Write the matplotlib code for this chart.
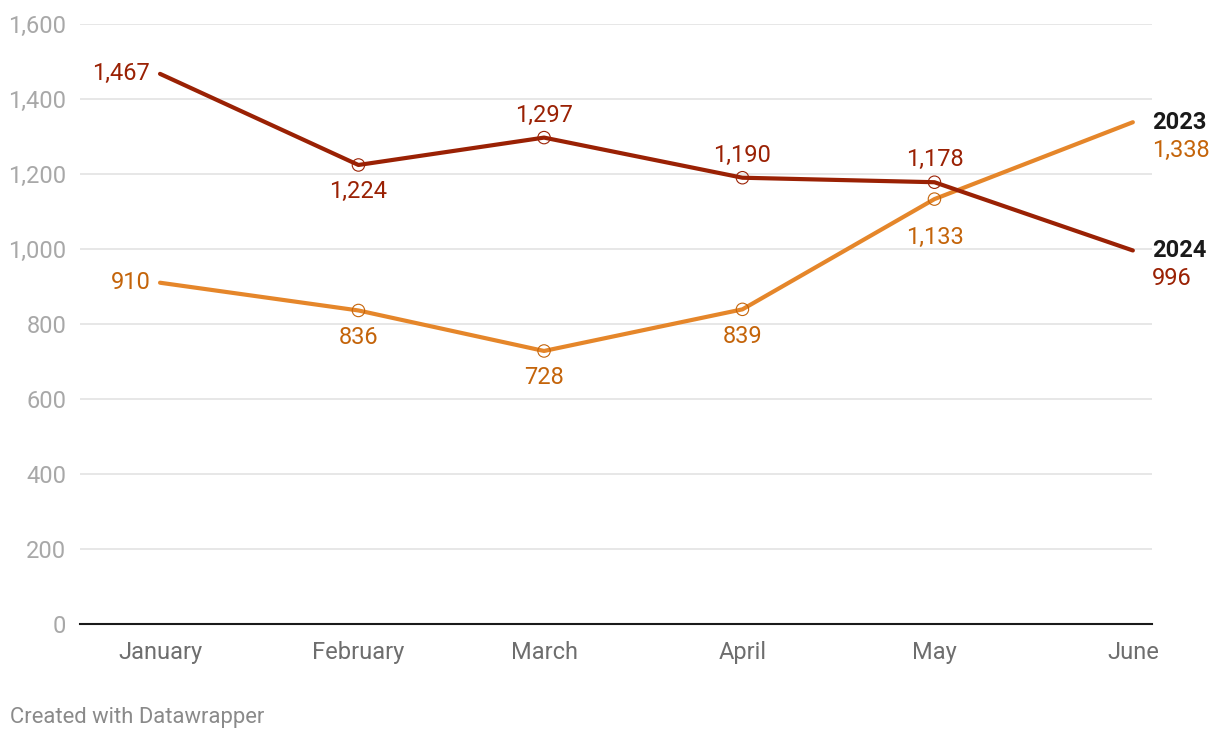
import datetime as dt
import matplotlib.pyplot as plt
import matplotlib.dates as mdates

plt.rcParams['font.family'] = ['Roboto', 'DejaVu Sans']

# data (x axis is a date axis, first of each month 2024)
months = ["January", "February", "March", "April", "May", "June"]
dates = [dt.datetime(2024, m, 1) for m in range(1, 7)]
sales_2024 = [1467, 1224, 1297, 1190, 1178, 996]
sales_2023 = [910, 836, 728, 839, 1133, 1338]
# where each value label goes: left / below / above / end
pos_2024 = ["left", "below", "above", "above", "above", "end"]
pos_2023 = ["left", "below", "below", "below", "below_far", "end"]
yticks = [0, 200, 400, 600, 800, 1000, 1200, 1400, 1600]

c24 = "#9a2104"
c23 = "#e5862a"
c23_text = "#c4640a"
fs = 17

fig = plt.figure(figsize=(12.2, 7.4), dpi=100)
ax = fig.add_axes([0.0656, 0.1568, 0.8787, 0.8108])
x = mdates.date2num(dates)

ax.plot(x, sales_2023, color=c23, lw=3, zorder=3, solid_capstyle="round")
ax.plot(x, sales_2024, color=c24, lw=3, zorder=3, solid_capstyle="round")
ax.scatter(x[1:-1], sales_2023[1:-1], s=80, facecolor="none", edgecolor=c23_text, lw=0.8, zorder=4)
ax.scatter(x[1:-1], sales_2024[1:-1], s=80, facecolor="none", edgecolor=c24, lw=0.8, zorder=4)

def label(vals, where, col):
    for xi, v, p in zip(x, vals, where):
        txt = f"{v:,}"
        if p == "left":
            ax.annotate(txt, (xi, v), xytext=(-7, 0), textcoords="offset points",
                        ha="right", va="center", color=col, fontsize=fs)
        elif p == "below":
            ax.annotate(txt, (xi, v), xytext=(0, -11), textcoords="offset points",
                        ha="center", va="top", color=col, fontsize=fs)
        elif p == "below_far":
            ax.annotate(txt, (xi, v), xytext=(0, -19), textcoords="offset points",
                        ha="center", va="top", color=col, fontsize=fs)
        elif p == "above":
            ax.annotate(txt, (xi, v), xytext=(0, 8), textcoords="offset points",
                        ha="center", va="bottom", color=col, fontsize=fs)

label(sales_2024, pos_2024, c24)
label(sales_2023, pos_2023, c23_text)

# end labels
for vals, name, col in [(sales_2023, "2023", c23_text), (sales_2024, "2024", c24)]:
    ax.annotate(name, (x[-1], vals[-1]), xytext=(14, 0), textcoords="offset points",
                ha="left", va="center", color="#1a1a1a", fontsize=fs, fontweight="bold",
                annotation_clip=False)
    ax.annotate(f"{vals[-1]:,}", (x[-1], vals[-1]), xytext=(14, -20), textcoords="offset points",
                ha="left", va="center", color=col, fontsize=fs, annotation_clip=False)

ax.set_xlim(x[0] - 12.5, x[-1] + 3)
ax.set_ylim(0, 1600)
ax.set_yticks(yticks)
ax.set_yticklabels([f"{t:,}" for t in yticks])
ax.set_xticks(x)
ax.set_xticklabels(months)
ax.tick_params(axis="y", length=0, pad=10, labelsize=fs, labelcolor="#a8a8a8")
ax.tick_params(axis="x", length=0, pad=12, labelsize=fs, labelcolor="#6e6e6e")
ax.grid(axis="y", color="#e3e3e3", lw=1.2)
ax.set_axisbelow(True)
for s in ["top", "right", "left"]:
    ax.spines[s].set_visible(False)
ax.spines["bottom"].set_color("#1a1a1a")
ax.spines["bottom"].set_linewidth(1.5)

fig.text(10 / 1220, 1 - 717 / 740, "Created with Datawrapper", color="#8a8a8a", fontsize=15.8, va="center")

plt.savefig("out.png", dpi=100)
